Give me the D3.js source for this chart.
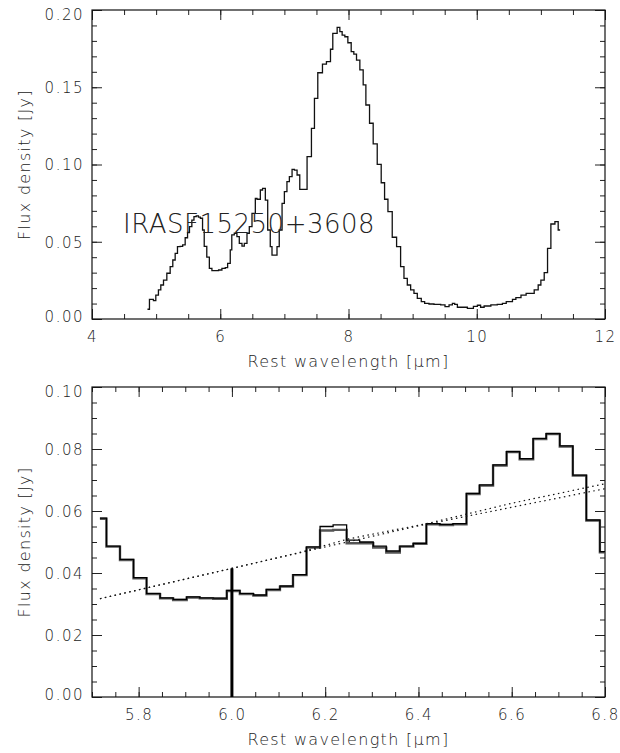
<!DOCTYPE html>
<html>
<head>
<meta charset="utf-8">
<script src="https://cdn.jsdelivr.net/npm/d3@7"></script>
<style>
  html, body { margin: 0; padding: 0; background: #fff; }
  svg { display: block; }
  text { font-family: "DejaVu Sans", "Liberation Sans", sans-serif; font-weight: 200; fill: #222; }
</style>
</head>
<body>
<svg id="chart" width="620" height="753"></svg>
<script>
// ---------------- DATA ----------------
// Top panel: full spectrum (bin left edges, last value is the end edge)
const topWave = [4.865, 4.896, 4.958, 4.995, 5.036, 5.073, 5.115, 5.167, 5.219, 5.26, 5.297, 5.333, 5.375, 5.414, 5.453, 5.49, 5.52, 5.557, 5.59, 5.625, 5.66, 5.69, 5.724, 5.75, 5.79, 5.83, 5.87, 5.92, 5.974, 6.026, 6.078, 6.115, 6.156, 6.18, 6.219, 6.26, 6.297, 6.339, 6.375, 6.417, 6.453, 6.495, 6.547, 6.573, 6.625, 6.66, 6.703, 6.74, 6.78, 6.807, 6.844, 6.885, 6.92, 6.964, 7.0, 7.04, 7.078, 7.12, 7.156, 7.198, 7.24, 7.354, 7.422, 7.469, 7.521, 7.594, 7.656, 7.719, 7.755, 7.823, 7.865, 7.901, 7.943, 7.99, 8.042, 8.083, 8.125, 8.177, 8.229, 8.271, 8.328, 8.385, 8.448, 8.51, 8.5625, 8.615, 8.682, 8.75, 8.8125, 8.865, 8.917, 8.969, 9.021, 9.073, 9.135, 9.1875, 9.255, 9.333, 9.4375, 9.505, 9.568, 9.62, 9.656, 9.698, 9.776, 9.854, 9.948, 10.01, 10.06, 10.115, 10.22, 10.32, 10.40, 10.46, 10.557, 10.61, 10.69, 10.77, 10.896, 10.958, 11.0, 11.052, 11.104, 11.156, 11.219, 11.27, 11.30];
const topFlux = [0.0063, 0.0127, 0.0119, 0.0155, 0.0188, 0.0220, 0.0252, 0.0296, 0.0339, 0.0382, 0.0425, 0.0468, 0.0470, 0.0480, 0.0526, 0.0560, 0.0598, 0.0640, 0.0662, 0.0667, 0.0660, 0.0652, 0.0576, 0.0470, 0.0400, 0.0328, 0.0313, 0.0313, 0.0317, 0.0328, 0.0333, 0.0360, 0.0447, 0.0544, 0.0555, 0.0533, 0.0490, 0.0472, 0.0490, 0.0555, 0.0598, 0.0684, 0.0781, 0.0775, 0.0835, 0.0846, 0.0770, 0.0576, 0.0468, 0.0414, 0.0414, 0.0468, 0.0576, 0.0749, 0.0824, 0.0889, 0.0921, 0.0969, 0.0964, 0.0932, 0.0839, 0.1051, 0.1234, 0.1428, 0.1594, 0.1650, 0.1666, 0.1746, 0.1849, 0.1888, 0.1860, 0.1838, 0.1827, 0.1788, 0.1730, 0.1715, 0.1676, 0.1612, 0.1515, 0.1385, 0.1267, 0.1133, 0.1001, 0.0882, 0.0775, 0.0695, 0.0529, 0.0468, 0.0339, 0.0263, 0.0220, 0.0188, 0.0166, 0.0134, 0.0112, 0.0101, 0.0097, 0.0095, 0.0091, 0.0080, 0.0091, 0.0101, 0.0095, 0.0076, 0.0076, 0.0069, 0.0082, 0.0089, 0.0076, 0.0084, 0.0091, 0.0095, 0.0101, 0.0112, 0.0127, 0.0138, 0.0155, 0.0166, 0.0188, 0.0220, 0.0252, 0.0300, 0.0457, 0.0615, 0.0630, 0.0576];
const topLabel = "IRASF15250+3608";
const topXTicks = [4, 6, 8, 10, 12];
const topYTicks = [0.00, 0.05, 0.10, 0.15, 0.20];

// Bottom panel: zoom on 5.7-6.8 um (bin left edges, last value is the end edge)
const botWave = [5.717, 5.731, 5.760, 5.789, 5.817, 5.846, 5.874, 5.903, 5.931, 5.960, 5.989, 6.017, 6.046, 6.074, 6.103, 6.131, 6.160, 6.189, 6.217, 6.246, 6.274, 6.303, 6.331, 6.360, 6.389, 6.417, 6.446, 6.474, 6.503, 6.531, 6.560, 6.589, 6.617, 6.646, 6.674, 6.703, 6.731, 6.760, 6.789, 6.80];
const botFluxThin = [0.0577, 0.0487, 0.0444, 0.0385, 0.0334, 0.0320, 0.0315, 0.0323, 0.0320, 0.0319, 0.0344, 0.0334, 0.0329, 0.0347, 0.0358, 0.0395, 0.0484, 0.0550, 0.0555, 0.0506, 0.0500, 0.0487, 0.0471, 0.0487, 0.0496, 0.0559, 0.0557, 0.0559, 0.0657, 0.0684, 0.0749, 0.0792, 0.0769, 0.0834, 0.0850, 0.0810, 0.0716, 0.0571, 0.0469];
const botFluxThick = [0.0575, 0.0485, 0.0442, 0.0383, 0.0332, 0.0318, 0.0313, 0.0321, 0.0318, 0.0317, 0.0342, 0.0332, 0.0327, 0.0345, 0.0356, 0.0393, 0.0482, 0.0537, 0.0539, 0.0496, 0.0496, 0.0482, 0.0466, 0.0485, 0.0494, 0.0557, 0.0555, 0.0557, 0.0655, 0.0682, 0.0747, 0.0790, 0.0767, 0.0832, 0.0848, 0.0808, 0.0714, 0.0569, 0.0467];
// Dotted continuum lines
const contAWave = [5.717, 6.0, 6.2, 6.4, 6.6, 6.8];
const contAFlux = [0.0317, 0.0415, 0.0484, 0.0552, 0.0612, 0.0672];
const contBWave = [5.717, 6.0, 6.15, 6.25, 6.42, 6.6, 6.8];
const contBFlux = [0.0317, 0.0415, 0.0468, 0.0510, 0.0560, 0.0625, 0.0688];
// Vertical marker
const markerWave = 6.0;
const markerFlux = [0.0, 0.0415];
const botXTicks = [5.8, 6.0, 6.2, 6.4, 6.6, 6.8];
const botYTicks = [0.00, 0.02, 0.04, 0.06, 0.08, 0.10];

const xTitle = "Rest wavelength [\u03BCm]";
const yTitle = "Flux density [Jy]";

// ---------------- DRAW ----------------
const svg = d3.select("#chart");
const FONT = '"DejaVu Sans", "Liberation Sans", sans-serif';

function panel(cfg) {
  const g = svg.append("g");
  const x = d3.scaleLinear().domain(cfg.xDomain).range([cfg.left, cfg.right]);
  const y = d3.scaleLinear().domain(cfg.yDomain).range([cfg.bottom, cfg.top]);
  const clipId = "clip" + cfg.id;
  svg.append("clipPath").attr("id", clipId).append("rect")
    .attr("x", cfg.left).attr("y", cfg.top)
    .attr("width", cfg.right - cfg.left).attr("height", cfg.bottom - cfg.top);

  const tickStyle = sel => {
    sel.select(".domain").remove();
    sel.selectAll(".tick line").attr("stroke", "#222").attr("stroke-width", 1);
    sel.selectAll("text")
      .style("font-family", FONT).style("font-weight", 200)
      .style("font-size", "15px").style("letter-spacing", "1.5px").attr("fill", "#222");
  };
  // major ticks + labels
  g.append("g").attr("transform", `translate(0,${cfg.bottom})`)
    .call(d3.axisBottom(x).tickValues(cfg.xTicks).tickSize(-10).tickPadding(12).tickFormat(cfg.xFmt))
    .call(tickStyle);
  g.append("g").attr("transform", `translate(0,${cfg.top})`)
    .call(d3.axisTop(x).tickValues(cfg.xTicks).tickSize(-10).tickFormat(""))
    .call(tickStyle);
  const yl = g.append("g").attr("transform", `translate(${cfg.left},0)`)
    .call(d3.axisLeft(y).tickValues(cfg.yTicks).tickSize(-10).tickPadding(8).tickFormat(d3.format(".2f")))
    .call(tickStyle);
  yl.selectAll("text").attr("dy", "0.36em");
  yl.selectAll(".tick").filter((d, i, n) => i === n.length - 1).select("text").attr("dy", "0.62em");
  yl.selectAll(".tick").filter((d, i) => i === 0).select("text").attr("dy", "0.18em");
  g.append("g").attr("transform", `translate(${cfg.right},0)`)
    .call(d3.axisRight(y).tickValues(cfg.yTicks).tickSize(-10).tickFormat(""))
    .call(tickStyle);
  // minor ticks
  g.append("g").attr("transform", `translate(0,${cfg.bottom})`)
    .call(d3.axisBottom(x).tickValues(cfg.xMinor).tickSize(-5).tickFormat("")).call(tickStyle);
  g.append("g").attr("transform", `translate(0,${cfg.top})`)
    .call(d3.axisTop(x).tickValues(cfg.xMinor).tickSize(-5).tickFormat("")).call(tickStyle);
  g.append("g").attr("transform", `translate(${cfg.left},0)`)
    .call(d3.axisLeft(y).tickValues(cfg.yMinor).tickSize(-5).tickFormat("")).call(tickStyle);
  g.append("g").attr("transform", `translate(${cfg.right},0)`)
    .call(d3.axisRight(y).tickValues(cfg.yMinor).tickSize(-5).tickFormat("")).call(tickStyle);

  // frame
  g.append("rect").attr("x", cfg.left).attr("y", cfg.top)
    .attr("width", cfg.right - cfg.left).attr("height", cfg.bottom - cfg.top)
    .attr("fill", "none").attr("stroke", "#111").attr("stroke-width", 1.2);

  // titles
  g.append("text").attr("x", (cfg.left + cfg.right) / 2).attr("y", cfg.bottom + 48)
    .attr("text-anchor", "middle").style("font-size", "16px").style("letter-spacing", "1.3px")
    .text(xTitle);
  g.append("text")
    .attr("transform", `translate(30,${(cfg.top + cfg.bottom) / 2}) rotate(-90)`)
    .attr("text-anchor", "middle").style("font-size", "16px").style("letter-spacing", "1.3px")
    .text(yTitle);

  const plot = g.append("g").attr("clip-path", `url(#${clipId})`);
  return {x, y, g, plot};
}

function stepLine(x, y, wave, flux) {
  const pts = wave.map((w, i) => [w, i < flux.length ? flux[i] : flux[flux.length - 1]]);
  return d3.line().x(d => x(d[0])).y(d => y(d[1])).curve(d3.curveStepAfter)(pts);
}

function minorVals(a, b, step) {
  const out = [];
  const n = Math.round((b - a) / step);
  for (let i = 0; i <= n; i++) out.push(+(a + i * step).toFixed(4));
  return out;
}

// ---- Top panel
const P1 = panel({
  id: 1, left: 92, right: 605, top: 10, bottom: 319,
  xDomain: [4, 12], yDomain: [0, 0.20],
  xTicks: topXTicks, yTicks: topYTicks,
  xMinor: minorVals(4, 12, 0.5), yMinor: minorVals(0, 0.20, 0.01),
  xFmt: d3.format("d")
});
P1.plot.append("path").attr("d", stepLine(P1.x, P1.y, topWave, topFlux))
  .attr("fill", "none").attr("stroke", "#111").attr("stroke-width", 1.3);
P1.g.append("text").attr("x", 123).attr("y", 233)
  .style("font-size", "26px").style("letter-spacing", "0.5px").attr("fill", "#333")
  .text(topLabel);

// ---- Bottom panel
const P2 = panel({
  id: 2, left: 92, right: 605, top: 387, bottom: 697,
  xDomain: [5.7, 6.8], yDomain: [0, 0.10],
  xTicks: botXTicks, yTicks: botYTicks,
  xMinor: minorVals(5.7, 6.8, 0.05), yMinor: minorVals(0, 0.10, 0.005),
  xFmt: d3.format(".1f")
});
P2.plot.append("path").attr("d", stepLine(P2.x, P2.y, botWave, botFluxThick))
  .attr("fill", "none").attr("stroke", "#555").attr("stroke-width", 2.4);
P2.plot.append("path").attr("d", stepLine(P2.x, P2.y, botWave, botFluxThin))
  .attr("fill", "none").attr("stroke", "#000").attr("stroke-width", 1.3);
const dotted = d3.line().x(d => P2.x(d[0])).y(d => P2.y(d[1]));
P2.plot.append("path").attr("d", dotted(contAWave.map((w, i) => [w, contAFlux[i]])))
  .attr("fill", "none").attr("stroke", "#111").attr("stroke-width", 1.2).attr("stroke-dasharray", "1.5,3.5");
P2.plot.append("path").attr("d", dotted(contBWave.map((w, i) => [w, contBFlux[i]])))
  .attr("fill", "none").attr("stroke", "#111").attr("stroke-width", 1.2).attr("stroke-dasharray", "1.5,3.5");
P2.plot.append("line")
  .attr("x1", P2.x(markerWave)).attr("x2", P2.x(markerWave))
  .attr("y1", P2.y(markerFlux[0])).attr("y2", P2.y(markerFlux[1]))
  .attr("stroke", "#000").attr("stroke-width", 3);
</script>
</body>
</html>
